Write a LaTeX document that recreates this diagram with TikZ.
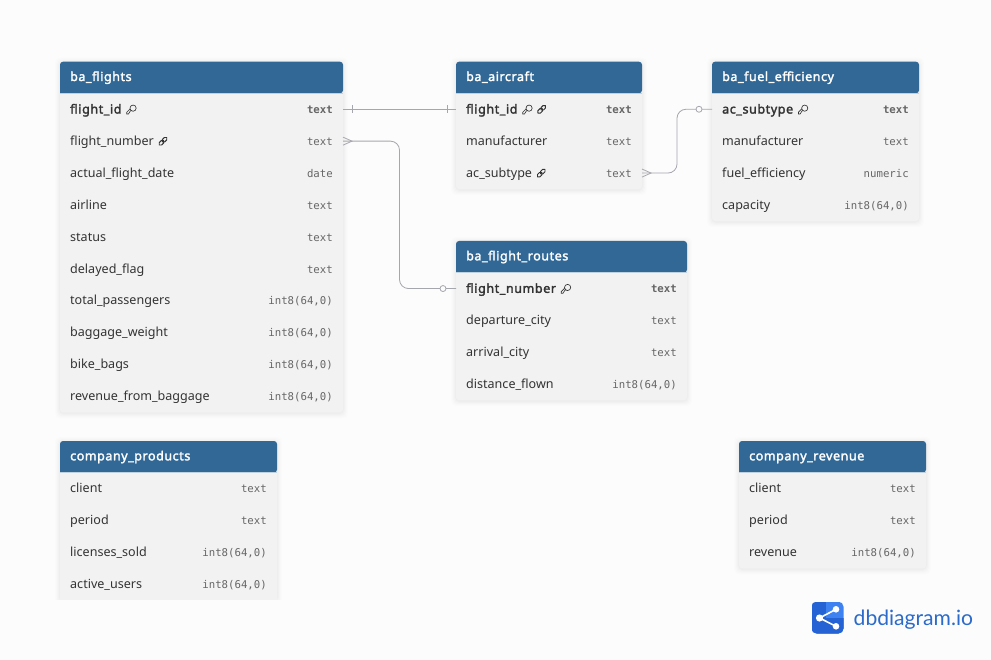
\documentclass[tikz,border=0pt]{standalone}
\usepackage{fontspec}
\setmainfont{Noto Sans}[BoldFont={Noto Sans},BoldFeatures={FakeBold=2.2,LetterSpace=4.5}]
\newfontfamily\typefont{DejaVu Sans Mono}
\newfontfamily\logofont{Lato}
\usetikzlibrary{calc}
\definecolor{bgc}{HTML}{FCFCFC}
\definecolor{headc}{HTML}{316896}
\definecolor{bodyc}{HTML}{F2F2F2}
\definecolor{namec}{HTML}{333333}
\definecolor{typec}{HTML}{666666}
\definecolor{linec}{HTML}{A6A6AE}
\definecolor{logoa}{HTML}{2563D4}
\definecolor{logob}{HTML}{3D82F0}
\definecolor{logot}{HTML}{2B6BCB}
\tikzset{
  rowbox/.style={minimum height=31.9pt,inner sep=0pt,outer sep=0pt},
  nametxt/.style={anchor=base west,inner sep=0pt,text=namec},
  typetxt/.style={anchor=base east,inner sep=0pt,text=typec},
  titletxt/.style={anchor=base west,inner sep=0pt,text=white,font=\bfseries\fontsize{12.5}{14}\selectfont},
  conn/.style={draw=linec,line width=.8pt},
  iconln/.style={draw=namec,line width=.65pt,fill=none},
}
\newcommand{\keyat}[1]{%
  \begin{scope}[shift={($(\curname.base east)+(#1pt,4.2pt)$)}]
    \draw[iconln] (2.2,1.2) -- (-1.2,1.4) -- (-3.2,4.6) -- (-4.9,4.6) -- (-4.9,2.9) -- (-1.4,-.6);
    \draw[iconln,fill=bodyc] (1.4,-1.2) circle (3.1pt);
  \end{scope}}
\newcommand{\linkat}[1]{%
  \begin{scope}[shift={($(\curname.base east)+(#1pt,4.2pt)$)},rotate=45]
    \draw[iconln,line width=.95pt,rounded corners=1.6pt] (-5.2,-1.7) rectangle (.8,1.7);
    \draw[iconln,line width=.95pt,rounded corners=1.6pt] (-.8,-1.7) rectangle (5.2,1.7);
  \end{scope}}
\newcommand{\noicon}{}
\newcommand{\keyicon}{\keyat{10}}
\newcommand{\linkicon}{\linkat{9}}
\newcommand{\keylinkicon}{\keyat{10}\linkat{24}}
\newcommand{\dbtable}[6]{%
  \pgfmathsetmacro{\rowcount}{0}%
  \foreach \nm/\ty/\fnt/\ic [count=\ri] in {#6}{\xdef\rowcount{\ri}}%
  \pgfmathsetmacro{\tbot}{#5+31.6+31.9*\rowcount}%
  \foreach \sh/\op in {5/.008,4/.008,3/.01,2/.012,1/.015}{%
    \fill[black,fill opacity=\op,rounded corners=5pt]
      ({#3-\sh},{#5-\sh+1}) rectangle ({#4+\sh},{\tbot+\sh+1});}%
  \fill[bodyc,rounded corners=3pt] (#3,#5) rectangle (#4,\tbot);
  \fill[headc,rounded corners=3pt] (#3,{#5+31.6}) -- (#3,#5) -- (#4,#5) -- (#4,{#5+31.6}) [sharp corners] -- cycle;
  \draw[white!70!headc,line width=.6pt] (#3,{#5+31.7}) -- (#4,{#5+31.7});
  \node[titletxt] (#1-title) at ({#3+10},{#5+19.3}) {#2};
  \foreach \nm/\ty/\fnt/\ic [count=\ri] in {#6}{%
    \pgfmathsetmacro{\cy}{#5+31.6+31.9*(\ri-.5)}%
    \node[rowbox,minimum width={(#4-#3)*1pt}] (#1-\ri) at ({(#3+#4)/2},\cy) {};
    \node[nametxt,font=\fnt\fontsize{12.55}{14}\selectfont] (#1-\ri-name) at ({#3+10},{\cy+4.3}) {\nm};
    \node[typetxt,font=\fnt\typefont\fontsize{10.7}{12}\selectfont] (#1-\ri-type) at ({#4-10},{\cy+4.3}) {\ty};
    \def\curname{#1-\ri-name}%
    \ic
  }%
}
\begin{document}
\begin{tikzpicture}[x=1pt,y=-1pt]
\useasboundingbox (0,0) rectangle (991,660);
\fill[bgc] (0,0) rectangle (991,660);

\dbtable{fl}{ba\_flights}{60}{343}{61.7}{
  flight\_id/text/\bfseries/\keyicon,
  flight\_number/text/\normalfont/\linkicon,
  actual\_flight\_date/date/\normalfont/\noicon,
  airline/text/\normalfont/\noicon,
  status/text/\normalfont/\noicon,
  delayed\_flag/text/\normalfont/\noicon,
  total\_passengers/int8(64{,}0)/\normalfont/\noicon,
  baggage\_weight/int8(64{,}0)/\normalfont/\noicon,
  bike\_bags/int8(64{,}0)/\normalfont/\noicon,
  revenue\_from\_baggage/int8(64{,}0)/\normalfont/\noicon}

\dbtable{ac}{ba\_aircraft}{456}{642}{61.7}{
  flight\_id/text/\bfseries/\keylinkicon,
  manufacturer/text/\normalfont/\noicon,
  ac\_subtype/text/\normalfont/\linkicon}

\dbtable{fu}{ba\_fuel\_efficiency}{712}{919}{61.7}{
  ac\_subtype/text/\bfseries/\keyicon,
  manufacturer/text/\normalfont/\noicon,
  fuel\_efficiency/numeric/\normalfont/\noicon,
  capacity/int8(64{,}0)/\normalfont/\noicon}

\dbtable{ro}{ba\_flight\_routes}{456}{687}{241}{
  flight\_number/text/\bfseries/\keyicon,
  departure\_city/text/\normalfont/\noicon,
  arrival\_city/text/\normalfont/\noicon,
  distance\_flown/int8(64{,}0)/\normalfont/\noicon}

\dbtable{cp}{company\_products}{60}{277}{441}{
  client/text/\normalfont/\noicon,
  period/text/\normalfont/\noicon,
  licenses\_sold/int8(64{,}0)/\normalfont/\noicon,
  active\_users/int8(64{,}0)/\normalfont/\noicon}
\fill[bodyc] (60,596) rectangle (277,600.2);
\fill[bgc] (50,600.2) rectangle (290,612);

\dbtable{cr}{company\_revenue}{739}{926}{441}{
  client/text/\normalfont/\noicon,
  period/text/\normalfont/\noicon,
  revenue/int8(64{,}0)/\normalfont/\noicon}

% connectors
\draw[conn] (fl-1.east) -- (ac-1.west);
\draw[conn] ($(fl-1.east)+(9,-4)$) -- ($(fl-1.east)+(9,4)$);
\draw[conn] ($(ac-1.west)+(-9,-4)$) -- ($(ac-1.west)+(-9,4)$);

\coordinate (m1) at ($(fl-2.east)!.5!(ro-1.west)$);
\draw[conn,rounded corners=9pt] (fl-2.east) -| (m1) |- (ro-1.west);
\draw[conn] (fl-2.east)++(0,-4) -- ++(9,4) -- ++(-9,4);
\draw[conn,fill=bgc] ($(ro-1.west)+(-13,0)$) circle (3pt);

\coordinate (m2) at ($(ac-3.east)!.5!(fu-1.west)$);
\draw[conn,rounded corners=9pt] (ac-3.east) -| (m2) |- (fu-1.west);
\draw[conn] (ac-3.east)++(0,-4) -- ++(9,4) -- ++(-9,4);
\draw[conn,fill=bgc] ($(fu-1.west)+(-13,0)$) circle (3pt);

% logo
\begin{scope}
  \clip[rounded corners=5pt] (811.5,601.7) rectangle (843.5,633.5);
  \fill[logob] (811.5,601.7) rectangle (843.5,633.5);
  \fill[logoa] (811.5,601.7) rectangle (826,633.5);
  \fill[logoa] (826,618) rectangle (843.5,633.5);
\end{scope}
\coordinate (lgl) at (819.5,618);
\coordinate (lgu) at (836,609.3);
\coordinate (lgd) at (836,626.3);
\draw[white,line width=1.6pt] (lgu) -- (lgl) -- (lgd);
\fill[white] (lgl) circle (3.6pt) (lgu) circle (3.3pt) (lgd) circle (3.3pt);
\node[anchor=base west,inner sep=0pt,text=logot,font=\logofont\fontsize{21.1}{24}\selectfont] (logotext) at (853.5,625) {dbdiagram.io};
\end{tikzpicture}
\end{document}
